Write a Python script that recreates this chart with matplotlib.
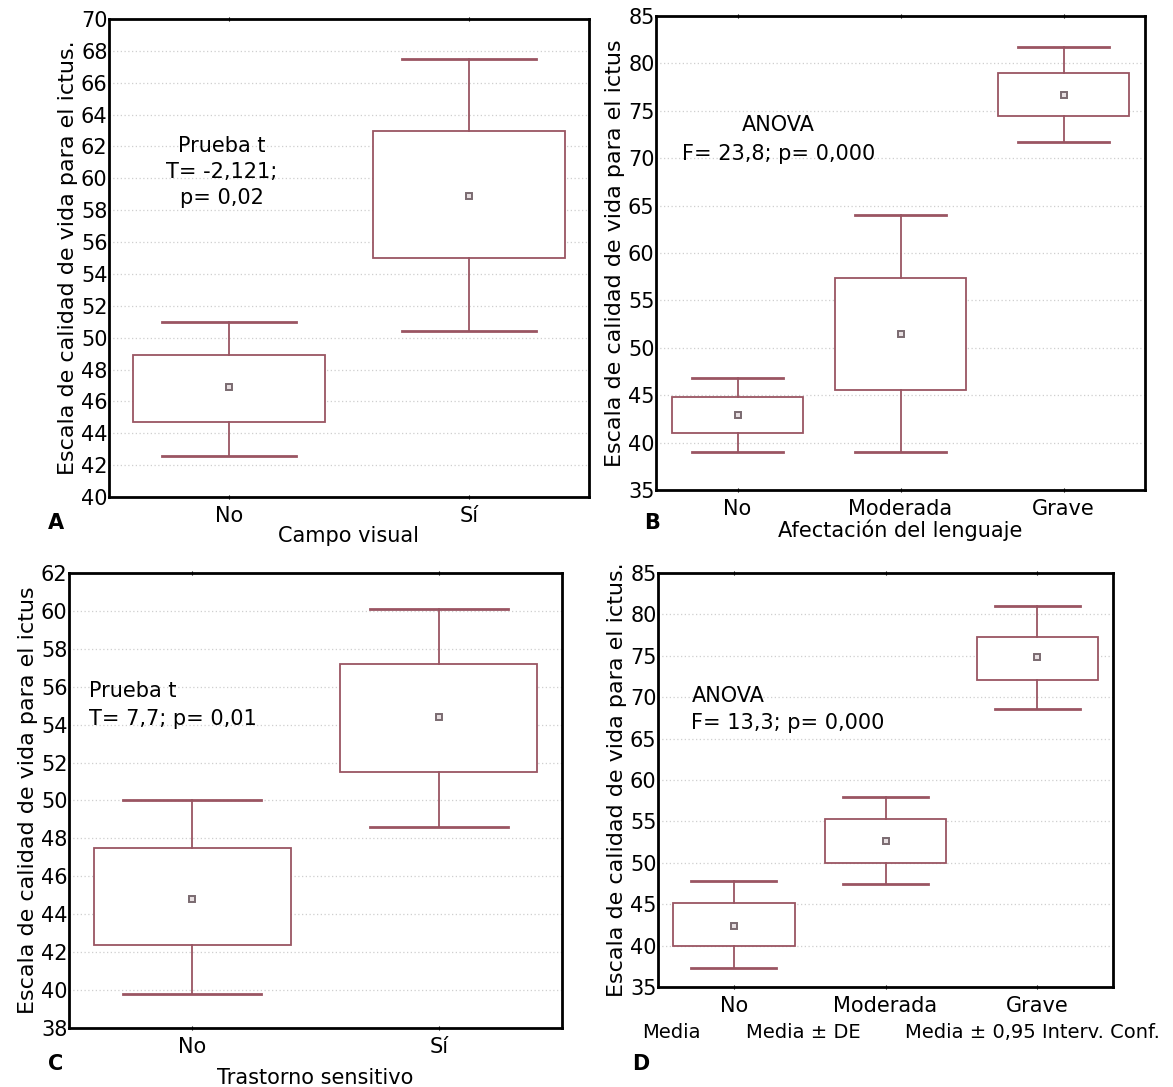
import matplotlib

matplotlib.use("Agg")
import matplotlib.pyplot as plt
from matplotlib.patches import Rectangle

# Panel A: Campo visual
a_cats = ["No", "Sí"]
a_mean = [46.9, 58.9]
a_box_lo = [44.7, 55.0]
a_box_hi = [48.9, 63.0]
a_wh_lo = [42.6, 50.4]
a_wh_hi = [51.0, 67.5]

# Panel B: Afectación del lenguaje
b_cats = ["No", "Moderada", "Grave"]
b_mean = [42.9, 51.5, 76.7]
b_box_lo = [41.0, 45.6, 74.4]
b_box_hi = [44.8, 57.4, 79.0]
b_wh_lo = [39.0, 39.0, 71.7]
b_wh_hi = [46.8, 64.0, 81.7]

# Panel C: Trastorno sensitivo
c_cats = ["No", "Sí"]
c_mean = [44.8, 54.4]
c_box_lo = [42.4, 51.5]
c_box_hi = [47.5, 57.2]
c_wh_lo = [39.8, 48.6]
c_wh_hi = [50.0, 60.1]

# Panel D: Afectación del lenguaje (second sample)
d_cats = ["No", "Moderada", "Grave"]
d_mean = [42.4, 52.6, 74.8]
d_box_lo = [39.9, 50.0, 72.1]
d_box_hi = [45.1, 55.3, 77.3]
d_wh_lo = [37.3, 47.4, 68.6]
d_wh_hi = [47.8, 58.0, 81.0]

YLABEL = "Escala de calidad de vida para el ictus"
LINE = "#9a5562"
FS = 15

W, H = 1173, 1087
fig = plt.figure(figsize=(W / 100, H / 100), dpi=100)
plt.rcParams["font.family"] = ["DejaVu Sans"]


def px_axes(left, top, right, bottom):
    return fig.add_axes([left / W, 1 - bottom / H, (right - left) / W, (bottom - top) / H])


def draw_panel(ax, cats, mean, blo, bhi, wlo, whi, ylim, ystep, ylabel):
    n = len(cats)
    for i in range(n):
        ax.add_patch(Rectangle((i - 0.4, blo[i]), 0.8, bhi[i] - blo[i],
                               facecolor="white", edgecolor=LINE, lw=1.3, zorder=3))
        ax.plot([i, i], [bhi[i], whi[i]], color=LINE, lw=1.3, zorder=3)
        ax.plot([i, i], [wlo[i], blo[i]], color=LINE, lw=1.3, zorder=3)
        ax.plot([i - 0.28, i + 0.28], [whi[i], whi[i]], color=LINE, lw=2, zorder=3)
        ax.plot([i - 0.28, i + 0.28], [wlo[i], wlo[i]], color=LINE, lw=2, zorder=3)
        ax.plot(i, mean[i], marker="s", ms=4.5, mfc="#e8e0e2", mec="#7a6a70", mew=1.4, zorder=4)
    ax.set_xlim(-0.5, n - 0.5)
    ax.set_ylim(*ylim)
    ax.set_xticks(range(n))
    ax.set_xticklabels(cats, fontsize=FS)
    ax.set_yticks(range(ylim[0], ylim[1] + 1, ystep))
    ax.tick_params(axis="y", length=0, pad=1, labelsize=FS)
    ax.tick_params(axis="x", length=3, direction="inout", top=True, pad=5)
    ax.yaxis.grid(True, linestyle=(0, (1, 2)), color="#cfcfcf", lw=0.9)
    ax.set_axisbelow(True)
    for s in ax.spines.values():
        s.set_linewidth(2)
        s.set_color("black")
    ax.set_ylabel(ylabel, fontsize=16, labelpad=2)


axA = px_axes(109, 19, 589, 497)
draw_panel(axA, a_cats, a_mean, a_box_lo, a_box_hi, a_wh_lo, a_wh_hi, (40, 70), 2, YLABEL + ".")
axA.set_xlabel("Campo visual", fontsize=FS, labelpad=0)
axA.text(-0.03, 60.4, "Prueba t\nT= -2,121;\np= 0,02", ha="center", va="center",
         fontsize=FS, linespacing=1.35)

axB = px_axes(656, 16, 1145, 490)
draw_panel(axB, b_cats, b_mean, b_box_lo, b_box_hi, b_wh_lo, b_wh_hi, (35, 85), 5, YLABEL)
axB.set_xlabel("Afectación del lenguaje", fontsize=FS, labelpad=0)
axB.text(0.25, 73.5, "ANOVA", ha="center", va="center", fontsize=FS)
axB.text(0.25, 70.4, "F= 23,8; p= 0,000", ha="center", va="center", fontsize=FS)

axC = px_axes(69, 573, 562, 1028)
draw_panel(axC, c_cats, c_mean, c_box_lo, c_box_hi, c_wh_lo, c_wh_hi, (38, 62), 2, YLABEL)
axC.set_xlabel("Trastorno sensitivo", fontsize=FS, labelpad=8)
axC.text(-0.42, 55.8, "Prueba t", ha="left", va="center", fontsize=FS)
axC.text(-0.42, 54.3, "T= 7,7; p= 0,01", ha="left", va="center", fontsize=FS)

axD = px_axes(658, 573, 1113, 987)
draw_panel(axD, d_cats, d_mean, d_box_lo, d_box_hi, d_wh_lo, d_wh_hi, (35, 85), 5, YLABEL + ".")
axD.text(-0.28, 70.2, "ANOVA", ha="left", va="center", fontsize=FS)
axD.text(-0.28, 66.9, "F= 13,3; p= 0,000", ha="left", va="center", fontsize=FS)

# footer legend under D
fig.text(671 / W, 1 - 1033 / H, "Media", ha="center", va="center", fontsize=14)
fig.text(803 / W, 1 - 1033 / H, "Media ± DE", ha="center", va="center", fontsize=14)
fig.text(1032 / W, 1 - 1033 / H, "Media ± 0,95 Interv. Conf.", ha="center", va="center",
         fontsize=14)

# panel letters
for lbl, x, y in [("A", 56, 523), ("B", 652, 523), ("C", 56, 1064), ("D", 641, 1064)]:
    fig.text(x / W, 1 - y / H, lbl, ha="center", va="center", fontsize=15, fontweight="bold")

fig.savefig("out.png", dpi=100)
